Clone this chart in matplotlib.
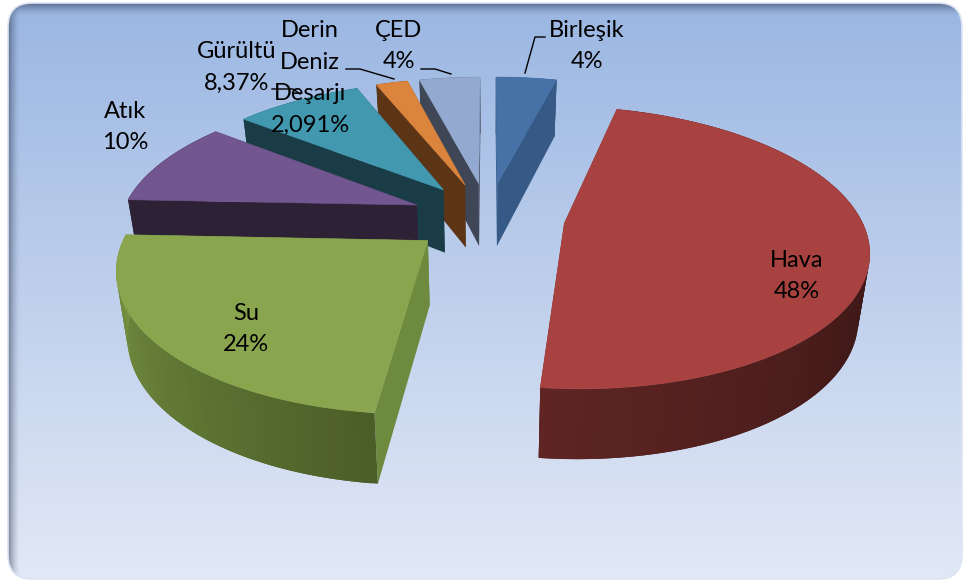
import numpy as np
import matplotlib
matplotlib.use("Agg")
import matplotlib.pyplot as plt
from matplotlib.patches import FancyBboxPatch, Polygon
from matplotlib.colors import to_rgb

labels = ["Birleşik", "Hava", "Su", "Atık", "Gürültü", "Derin\nDeniz\nDeşarjı", "ÇED"]
values = [4, 48, 24, 10, 8.37, 2.091, 4]
percent_text = ["4%", "48%", "24%", "10%", "8,37%", "2,091%", "4%"]

top_colors = ["#4672A8", "#A74240", "#89A54E", "#71568F", "#4198AF", "#DB843D", "#93A9CF"]
side_colors = ["#365A85", "#5E2624", "#6E8A3E", "#2D2136", "#1A3C46", "#5C3517", "#3F4757"]
wall_start = ["#365A85", "#160808", "#4C5E28", "#2D2136", "#1A3C46", "#5C3517", "#3F4757"]
wall_end = ["#365A85", "#5E2523", "#7A9644", "#2D2136", "#1A3C46", "#5C3517", "#3F4757"]
label_pos = [(587, 46), (797, 276), (246, 329), (125, 127), (237, 67), (310, 78), (399, 46)]

# back slices first, front ones cover them
draw_order = [6, 5, 4, 3, 0, 2, 1]

W, H = 963, 581
cx, cy = 488, 217
f, g = 296, 135
k = 0.17
explode = 0.26
bottom_shrink = 0.97

plt.rcParams["font.family"] = ["Lato", "DejaVu Sans"]


def project(X, Y):
    w = 1 + k * Y
    return cx + f * X / w, cy - g * Y / w


def drop(Y):
    return 64 - 6 * Y


def lower(x):
    # bottom of the pie is further from the camera
    return cx + (x - cx) * bottom_shrink


fig = plt.figure(figsize=(W / 100, H / 100), dpi=100)
ax = fig.add_axes([0, 0, 1, 1])
ax.set_xlim(0, W)
ax.set_ylim(H, 0)
ax.axis("off")

# background panel: vertical gradient + inner shadow on top and left
yy, xx = np.mgrid[0:H, 0:W]
c1 = np.array(to_rgb("#9AB6E2"))
c2 = np.array(to_rgb("#E3E9F6"))
t = (yy / H)[..., None]
bg = c1 + (c2 - c1) * t
shadow_top = np.clip(1 - (yy - 3) / 13.0, 0, 1) ** 1.6 * 0.5
shadow_left = np.clip(1 - (xx - 8) / 12.0, 0, 1) ** 1.6 * 0.5
shade = (1 - shadow_top) * (1 - shadow_left)
bg = bg * shade[..., None] + np.array(to_rgb("#1F2A44")) * (1 - shade[..., None])
panel = FancyBboxPatch((8, 3), W - 9, H - 5, boxstyle="round,pad=0,rounding_size=24",
                       fc="none", ec="#DDE5F3", lw=1.2, zorder=3)
ax.add_patch(panel)
im = ax.imshow(bg, extent=(0, W, H, 0), aspect="auto", zorder=1, interpolation="bilinear")
im.set_clip_path(panel)
ax.set_xlim(0, W)
ax.set_ylim(H, 0)

total = sum(values)
starts = np.cumsum([0] + values[:-1]) / total * 2 * np.pi
sizes = np.array(values) / total * 2 * np.pi

z = 5
for i in draw_order:
    a0, a1 = starts[i], starts[i] + sizes[i]
    mid = (a0 + a1) / 2
    ox, oy = explode * np.sin(mid), explode * np.cos(mid)
    ang = np.linspace(a0, a1, 80)
    X = ox + np.sin(ang)
    Y = oy + np.cos(ang)
    px, py = project(X, Y)
    ax0, ay0 = project(ox, oy)
    d0 = drop(oy)
    d = drop(Y)
    bx = lower(px)
    by = py + d

    # radial walls
    for j in (0, -1):
        wall = [(ax0, ay0), (px[j], py[j]), (bx[j], by[j]), (lower(ax0), ay0 + d0)]
        ax.add_patch(Polygon(wall, fc=side_colors[i], ec="none", zorder=z))
    z += 1

    # outer wall, strip by strip so it can shade along the arc
    # every strip runs over the next one, that hides the seams
    c_a = np.array(to_rgb(wall_start[i]))
    c_b = np.array(to_rgb(wall_end[i]))
    for n in range(len(ang) - 1):
        col = c_a + (c_b - c_a) * n / (len(ang) - 2)
        m = min(n + 3, len(ang))
        strip = list(zip(px[n:m], py[n:m])) + list(zip(bx[n:m][::-1], by[n:m][::-1]))
        ax.add_patch(Polygon(strip, fc=col, ec="none", zorder=z + n * 0.001))
    z += 1

    top = [(ax0, ay0)] + list(zip(px, py))
    ax.add_patch(Polygon(top, fc=top_colors[i], ec=top_colors[i], lw=0.4, zorder=z))
    z += 1

for name, pct, (tx, ty) in zip(labels, percent_text, label_pos):
    ax.text(tx, ty, name + "\n" + pct, ha="center", va="center", fontsize=17,
            color="black", linespacing=1.63, zorder=100)

# leader lines
ax.plot([525, 535, 545], [73, 37, 37], color="black", lw=1, zorder=99)
ax.plot([421, 435, 451], [69, 69, 74], color="black", lw=1, zorder=99)
ax.plot([346, 360, 394], [69, 69, 79], color="black", lw=1, zorder=99)
ax.plot([272, 293, 300], [89, 89, 94], color="black", lw=1, zorder=99)

fig.savefig("out.png", dpi=100, facecolor="white")
